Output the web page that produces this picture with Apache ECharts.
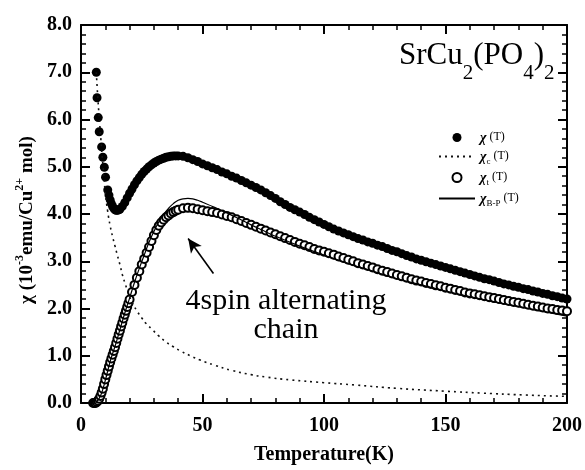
<!DOCTYPE html>
<html lang="en">
<head>
    <meta charset="UTF-8">
    <title>SrCu2(PO4)2 susceptibility</title>
    <script src="https://cdn.jsdelivr.net/npm/echarts@6/dist/echarts.min.js"></script>
    <style>
        body, html {
            margin: 0;
            height: 100%;
            background: #fff;
        }

        #chart {
            width: 585px;
            height: 470px;
        }
    </style>
</head>
<body>
<div id="chart"></div>
<script>
    // χ(T) measured, filled circles
    const tChi = [6.3, 6.6, 7.1, 7.5, 8.5, 9.0, 9.6, 10.1, 11.0, 11.5, 12.0, 12.5, 13.0, 13.5, 14.0, 14.5, 15.0, 15.5,
        16, 17, 18, 19, 20, 21, 22, 23, 24, 25, 26, 27, 28, 29, 30, 31, 32, 33, 34, 35, 36, 37, 38, 39, 40,
        42, 44, 46, 48, 50, 52, 54, 56, 58, 60, 62, 64, 66, 68, 70, 72, 74, 76, 78, 80, 82, 84, 86, 88, 90,
        92, 94, 96, 98, 100, 102, 104, 106, 108, 110, 112, 114, 116, 118, 120, 122, 124, 126, 128, 130, 132,
        134, 136, 138, 140, 142, 144, 146, 148, 150, 152, 154, 156, 158, 160, 162, 164, 166, 168, 170, 172,
        174, 176, 178, 180, 182, 184, 186, 188, 190, 192, 194, 196, 198, 200];
    const chi = [7.0, 6.46, 6.04, 5.74, 5.42, 5.2, 4.99, 4.78, 4.51, 4.4, 4.3, 4.22, 4.16, 4.12, 4.09, 4.08, 4.08, 4.09,
        4.10, 4.16, 4.24, 4.34, 4.44, 4.53, 4.62, 4.70, 4.77, 4.84, 4.90, 4.95, 5.00, 5.04, 5.08, 5.11, 5.14, 5.16, 5.18, 5.20, 5.21, 5.22, 5.23, 5.23, 5.23,
        5.22, 5.19, 5.15, 5.11, 5.06, 5.02, 4.98, 4.94, 4.89, 4.85, 4.80, 4.76, 4.71, 4.66, 4.61, 4.56, 4.51, 4.45, 4.39, 4.33, 4.26, 4.20, 4.14, 4.09, 4.04,
        3.99, 3.93, 3.88, 3.83, 3.78, 3.73, 3.68, 3.64, 3.60, 3.56, 3.52, 3.48, 3.45, 3.41, 3.38, 3.34, 3.31, 3.27, 3.23, 3.20, 3.16,
        3.12, 3.09, 3.05, 3.02, 2.99, 2.96, 2.93, 2.90, 2.87, 2.84, 2.81, 2.78, 2.75, 2.72, 2.69, 2.66, 2.63, 2.61, 2.58, 2.55,
        2.52, 2.50, 2.47, 2.45, 2.42, 2.40, 2.37, 2.35, 2.32, 2.30, 2.27, 2.25, 2.22, 2.20];

    // χc(T) Curie term, dotted
    const tCurie = [6.3, 7, 8, 9, 10, 11, 12, 13, 14, 15, 16, 17, 18, 19, 20, 21, 23, 25, 27, 29, 32, 35, 38, 41, 45, 49,
        55, 62, 70, 76, 86, 100, 113, 130, 150, 165, 182, 200];
    const chiCurie = [7.0, 6.4, 5.7, 5.05, 4.45, 4.05, 3.75, 3.52, 3.32, 3.12, 2.93, 2.72, 2.55, 2.4, 2.25, 2.13, 1.95, 1.8, 1.67, 1.57, 1.42, 1.29, 1.19, 1.1, 1.0, 0.91,
        0.8, 0.69, 0.6, 0.55, 0.49, 0.43, 0.38, 0.31, 0.25, 0.21, 0.17, 0.14];

    // χt(T) = χ - χc, open circles
    const tChiT = [5.0, 5.5, 6.0, 6.5, 7.0, 7.5, 8.0, 8.5, 9.0, 9.5, 10.0, 10.5, 11.0, 11.5, 12.0, 12.5, 13.0, 13.5, 14.0, 14.5,
        15.0, 15.5, 16.0, 16.5, 17.0, 17.5, 18.0, 18.5, 19.0, 19.5, 20, 21, 22, 23, 24, 25, 26, 27, 28, 29, 30, 31, 32, 33,
        34, 35, 36, 37, 38, 39, 40, 42, 44, 46, 48, 50, 52, 54, 56, 58, 60, 62, 64, 66, 68, 70, 72, 74, 76, 78, 80, 82, 84,
        86, 88, 90, 92, 94, 96, 98, 100, 102, 104, 106, 108, 110, 112, 114, 116, 118, 120, 122, 124, 126, 128, 130, 132,
        134, 136, 138, 140, 142, 144, 146, 148, 150, 152, 154, 156, 158, 160, 162, 164, 166, 168, 170, 172, 174, 176, 178,
        180, 182, 184, 186, 188, 190, 192, 194, 196, 198, 200];
    const chiT = [0.0, 0.0, 0.0, 0.02, 0.05, 0.09, 0.15, 0.22, 0.30, 0.40, 0.50, 0.59, 0.68, 0.77, 0.86, 0.94, 1.02, 1.10, 1.18, 1.27,
        1.36, 1.45, 1.53, 1.62, 1.70, 1.79, 1.87, 1.95, 2.03, 2.11, 2.19, 2.35, 2.50, 2.65, 2.79, 2.93, 3.05, 3.18, 3.30, 3.43, 3.55, 3.66, 3.75, 3.82,
        3.88, 3.93, 3.97, 4.01, 4.04, 4.07, 4.09, 4.12, 4.13, 4.12, 4.10, 4.08, 4.06, 4.04, 4.02, 3.99, 3.96, 3.93, 3.89, 3.85, 3.81, 3.77, 3.73, 3.69, 3.65, 3.61, 3.57, 3.53, 3.49,
        3.45, 3.41, 3.37, 3.34, 3.30, 3.26, 3.23, 3.20, 3.17, 3.14, 3.10, 3.07, 3.03, 3.00, 2.96, 2.93, 2.90, 2.87, 2.83, 2.80, 2.77, 2.74, 2.71, 2.68,
        2.65, 2.62, 2.59, 2.57, 2.54, 2.52, 2.49, 2.47, 2.44, 2.42, 2.39, 2.37, 2.34, 2.32, 2.30, 2.28, 2.26, 2.24, 2.22, 2.20, 2.18, 2.16, 2.14,
        2.12, 2.10, 2.08, 2.06, 2.04, 2.02, 2.00, 1.99, 1.97, 1.96, 1.94];

    // χB-P(T) fit, thin solid line
    const tBP = [6, 8, 10, 12, 14, 16, 18, 20, 22, 24, 26, 28, 30, 32, 34, 36, 38, 40, 42, 44, 46, 48, 50, 55, 60, 65, 70, 75,
        80, 90, 100, 110, 120, 130, 140, 150, 160, 170, 180, 190, 200];
    const chiBP = [0.0, 0.15, 0.48, 0.88, 1.2, 1.55, 1.9, 2.22, 2.55, 2.85, 3.13, 3.4, 3.63, 3.83, 3.99, 4.12, 4.22, 4.29, 4.32, 4.33, 4.32, 4.29, 4.25, 4.14, 4.02, 3.9, 3.77, 3.65,
        3.53, 3.32, 3.13, 2.95, 2.79, 2.63, 2.5, 2.37, 2.25, 2.14, 2.04, 1.94, 1.84];

    // arrow for the "4spin alternating chain" note (tail -> head, data coords)
    const arrowTail = [54.5, 2.74];
    const arrowHead = [44.1, 3.48];

    const zip = (xs, ys) => xs.map((x, i) => [x, ys[i]]);

    const serif = "'Liberation Serif', 'DejaVu Serif', serif";

    const chart = echarts.init(document.getElementById('chart'));

    const tickAxis = {
        type: 'value',
        axisLine: {onZero: false, lineStyle: {color: '#000', width: 2}},
        axisTick: {inside: true, length: 9, lineStyle: {color: '#000', width: 2}},
        minorTick: {show: true, splitNumber: 5, length: 5, lineStyle: {color: '#000', width: 1.5}},
        splitLine: {show: false},
        minorSplitLine: {show: false}
    };

    const labelStyle = {color: '#000', fontFamily: serif, fontWeight: 'bold', fontSize: 20};

    const legendText = {
        'χ(T)': '{g|χ}{t| (T)}',
        'χc(T)': '{g|χ}{s|c}{t| (T)}',
        'χt(T)': '{g|χ}{s|t}{t| (T)}',
        'χB-P(T)': '{g|χ}{s|B-P}{t| (T)}'
    };

    const option = {
        animation: false,
        backgroundColor: '#fff',
        grid: {left: 81, right: 17, top: 25, bottom: 60},
        title: {
            text: '{m|SrCu}{s|2}{m|(PO}{s|4}{m|)}{s|2}',
            left: 394,
            top: 35,
            textStyle: {
                fontWeight: 'normal',
                rich: {
                    m: {fontFamily: serif, fontWeight: 'normal', fontSize: 31, color: '#000', lineHeight: 30, verticalAlign: 'top'},
                    s: {fontFamily: serif, fontWeight: 'normal', fontSize: 21, color: '#000', lineHeight: 20, verticalAlign: 'top', padding: [23, 0, 0, 0]}
                }
            }
        },
        legend: {
            orient: 'vertical',
            left: 433,
            top: 126,
            itemWidth: 36,
            itemHeight: 9,
            itemGap: 5,
            data: ['χ(T)', 'χc(T)', 'χt(T)', 'χB-P(T)'],
            formatter: name => legendText[name],
            textStyle: {
                color: '#000',
                rich: {
                    g: {fontFamily: serif, fontStyle: 'italic', fontWeight: 'bold', fontSize: 14, lineHeight: 13, verticalAlign: 'top'},
                    s: {fontFamily: serif, fontSize: 9, lineHeight: 8, verticalAlign: 'top', padding: [7, 0, 0, 0]},
                    t: {fontFamily: serif, fontSize: 12, lineHeight: 13, verticalAlign: 'top'}
                }
            }
        },
        xAxis: [
            Object.assign({}, tickAxis, {
                min: 0, max: 200, interval: 50, position: 'bottom',
                name: 'Temperature(K)', nameLocation: 'middle', nameGap: 42,
                nameTextStyle: {color: '#000', fontFamily: serif, fontWeight: 'bold', fontSize: 20},
                axisLabel: Object.assign({margin: 13}, labelStyle)
            }),
            Object.assign({}, tickAxis, {
                min: 0, max: 200, interval: 50, position: 'top',
                axisLabel: {show: false}
            })
        ],
        yAxis: [
            Object.assign({}, tickAxis, {
                min: 0, max: 8, interval: 1, position: 'left',
                name: '{n|χ (10}{p|-3}{n|emu/Cu}{p|2+}{n| mol)}',
                nameLocation: 'middle', nameRotate: 90, nameGap: 40,
                nameTextStyle: {
                    padding: [0, 12, 0, 0],
                    rich: {
                        n: {fontFamily: serif, fontWeight: 'bold', fontSize: 19, color: '#000', lineHeight: 22, verticalAlign: 'bottom'},
                        p: {fontFamily: serif, fontWeight: 'bold', fontSize: 12, color: '#000', lineHeight: 12, verticalAlign: 'top'}
                    }
                },
                axisLabel: Object.assign({margin: 9, formatter: v => v.toFixed(1)}, labelStyle)
            }),
            Object.assign({}, tickAxis, {
                min: 0, max: 8, interval: 1, position: 'right',
                axisLabel: {show: false}
            })
        ],
        graphic: [{
            type: 'text',
            x: 286,
            y: 287,
            silent: true,
            style: {
                text: '4spin alternating\nchain',
                align: 'center',
                verticalAlign: 'top',
                font: "30px 'Liberation Serif', 'DejaVu Serif', serif",
                lineHeight: 29,
                fill: '#000'
            }
        }],
        series: [
            {
                name: 'χ(T)',
                type: 'scatter',
                data: zip(tChi, chi),
                symbol: 'circle',
                symbolSize: 9,
                itemStyle: {color: '#000', opacity: 1},
                z: 3
            },
            {
                name: 'χt(T)',
                type: 'scatter',
                data: zip(tChiT, chiT),
                symbol: 'circle',
                symbolSize: 8,
                itemStyle: {color: '#fff', borderColor: '#000', borderWidth: 2, opacity: 1},
                z: 3
            },
            {
                name: 'χB-P(T)',
                type: 'line',
                data: zip(tBP, chiBP),
                smooth: true,
                symbol: 'none',
                itemStyle: {color: 'rgba(0,0,0,0)'},
                lineStyle: {color: '#000', width: 1.2},
                z: 4
            },
            {
                name: 'χc(T)',
                type: 'line',
                data: zip(tCurie, chiCurie),
                smooth: true,
                symbol: 'none',
                itemStyle: {color: 'rgba(0,0,0,0)'},
                lineStyle: {color: '#111', width: 1.6, type: [2, 4]},
                z: 4,
                markLine: {
                    silent: true,
                    symbol: ['none', 'arrow'],
                    symbolSize: [10, 14],
                    label: {show: false},
                    lineStyle: {color: '#000', width: 1.6, type: 'solid'},
                    data: [[{coord: arrowTail}, {coord: arrowHead}]]
                }
            }
        ]
    };

    chart.setOption(option);
</script>
</body>
</html>
